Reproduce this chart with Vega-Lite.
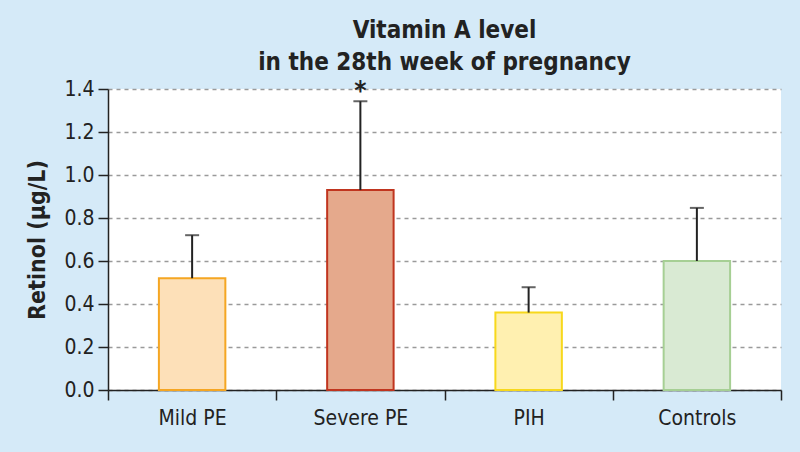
{
  "$schema": "https://vega.github.io/schema/vega-lite/v6.json",
  "autosize": "none",
  "width": 673,
  "height": 301,
  "padding": {"left": 108, "top": 89, "right": 19, "bottom": 62},
  "background": "#d5eaf8",
  "view": {"fill": "white", "stroke": null},
  "config": {
    "font": "DejaVu Sans Condensed, sans-serif",
    "axis": {
      "labelFont": "DejaVu Sans Condensed, sans-serif",
      "titleFont": "DejaVu Sans Condensed, sans-serif",
      "domainColor": "#222",
      "domainWidth": 1.5,
      "tickColor": "#222",
      "tickWidth": 1.5,
      "labelColor": "#222",
      "titleColor": "#222"
    }
  },
  "title": {
    "text": ["Vitamin A level", "in the 28th week of pregnancy"],
    "fontSize": 24,
    "fontWeight": "bold",
    "color": "#222",
    "lineHeight": 32,
    "anchor": "middle",
    "offset": 3,
    "font": "DejaVu Sans Condensed, sans-serif"
  },
  "data": {
    "values": [
      {"group": "Mild PE", "value": 0.52, "err": 0.72, "sig": ""},
      {"group": "Severe PE", "value": 0.93, "err": 1.343, "sig": "*"},
      {"group": "PIH", "value": 0.36, "err": 0.478, "sig": ""},
      {"group": "Controls", "value": 0.6, "err": 0.847, "sig": ""}
    ]
  },
  "encoding": {
    "x": {
      "field": "group",
      "type": "nominal",
      "sort": null,
      "scale": {"paddingInner": 0, "paddingOuter": 0},
      "axis": {
        "title": null,
        "labelAngle": 0,
        "labelFontSize": 21,
        "labelPadding": 7,
        "tickSize": 10,
        "tickBand": "extent",
        "grid": false
      }
    }
  },
  "layer": [
    {
      "mark": {"type": "bar", "width": {"band": 0.395}, "strokeWidth": 2},
      "encoding": {
        "y": {
          "field": "value",
          "type": "quantitative",
          "scale": {"domain": [0, 1.4], "nice": false},
          "axis": {
            "title": "Retinol (µg/L)",
            "titleFontSize": 23,
            "titleFontWeight": "bold",
            "titlePadding": 14,
            "values": [0, 0.2, 0.4, 0.6, 0.8, 1.0, 1.2, 1.4],
            "format": ".1f",
            "labelFontSize": 21,
            "labelPadding": 4,
            "tickSize": 10,
            "grid": true,
            "gridColor": "#9a9a9a",
            "gridDash": [4, 4],
            "gridWidth": 1.5
          }
        },
        "fill": {
          "field": "group",
          "type": "nominal",
          "scale": {
            "domain": ["Mild PE", "Severe PE", "PIH", "Controls"],
            "range": ["#fde0b8", "#e5a98c", "#fff0b0", "#d9ead3"]
          },
          "legend": null
        },
        "stroke": {
          "field": "group",
          "type": "nominal",
          "scale": {
            "domain": ["Mild PE", "Severe PE", "PIH", "Controls"],
            "range": ["#f5a623", "#c0351f", "#f7d81c", "#a6cf94"]
          },
          "legend": null
        }
      }
    },
    {
      "mark": {"type": "rule", "color": "#222", "strokeWidth": 2},
      "encoding": {
        "y": {"field": "value", "type": "quantitative"},
        "y2": {"field": "err"}
      }
    },
    {
      "mark": {"type": "tick", "color": "#222", "thickness": 2, "size": 14},
      "encoding": {
        "y": {"field": "err", "type": "quantitative"}
      }
    },
    {
      "transform": [{"filter": "datum.sig != ''"}],
      "mark": {"type": "text", "fontSize": 26, "fontWeight": "bold", "color": "#222", "dy": -9},
      "encoding": {
        "y": {"field": "err", "type": "quantitative"},
        "text": {"field": "sig"}
      }
    }
  ]
}
